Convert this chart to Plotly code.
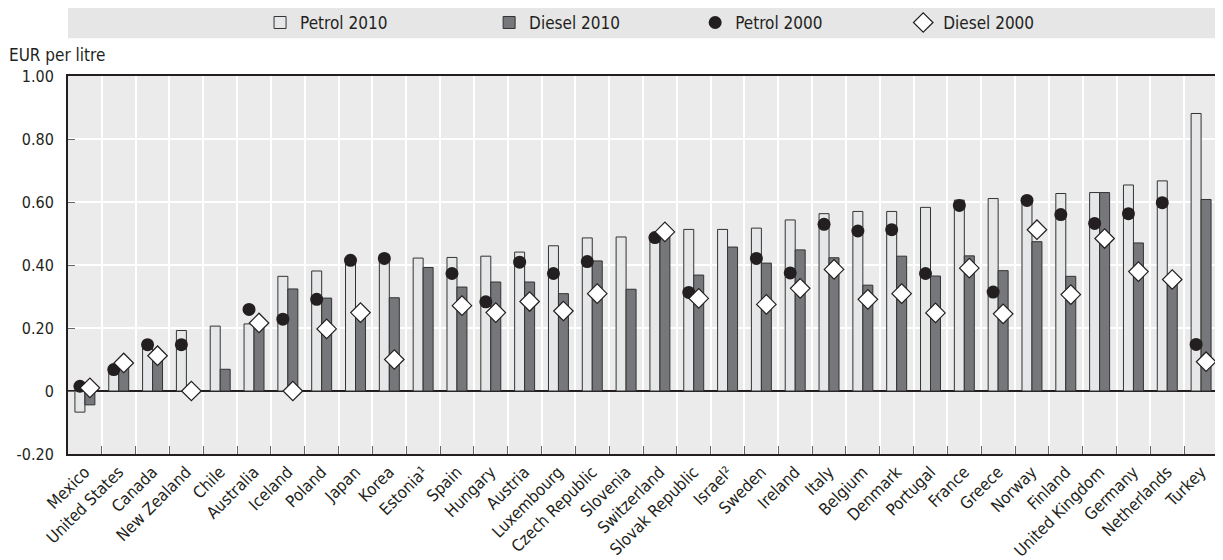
import plotly.graph_objects as go

countries = ["Mexico", "United States", "Canada", "New Zealand", "Chile", "Australia", "Iceland",
             "Poland", "Japan", "Korea", "Estonia¹", "Spain", "Hungary", "Austria", "Luxembourg",
             "Czech Republic", "Slovenia", "Switzerland", "Slovak Republic", "Israel²", "Sweden",
             "Ireland", "Italy", "Belgium", "Denmark", "Portugal", "France", "Greece", "Norway",
             "Finland", "United Kingdom", "Germany", "Netherlands", "Turkey"]

petrol_2010 = [-0.067, 0.06, 0.14, 0.192, 0.206, 0.213, 0.364, 0.381, 0.41, 0.42, 0.422, 0.424,
               0.428, 0.441, 0.461, 0.486, 0.489, 0.48, 0.513, 0.513, 0.517, 0.543, 0.563, 0.570,
               0.570, 0.583, 0.606, 0.611, 0.60, 0.627, 0.630, 0.654, 0.667, 0.881]
diesel_2010 = [-0.044, 0.08, 0.11, 0.0, 0.069, 0.21, 0.324, 0.295, 0.24, 0.296, 0.392, 0.330,
               0.346, 0.346, 0.309, 0.413, 0.323, 0.49, 0.368, 0.457, 0.406, 0.448, 0.423, 0.336,
               0.428, 0.365, 0.429, 0.382, 0.474, 0.364, 0.630, 0.470, 0.35, 0.608]
petrol_2000 = [0.015, 0.068, 0.147, 0.147, None, 0.259, 0.228, 0.291, 0.415, 0.421, None, 0.373,
               0.283, 0.409, 0.373, 0.411, None, 0.487, 0.313, None, 0.421, 0.375, 0.529, 0.508,
               0.512, 0.373, 0.589, 0.314, 0.605, 0.560, 0.532, 0.563, 0.598, 0.148]
diesel_2000 = [0.01, 0.089, 0.112, 0.0, None, 0.216, 0.0, 0.197, 0.249, 0.10, None, 0.271,
               0.249, 0.284, 0.254, 0.309, None, 0.505, 0.294, None, 0.275, 0.326, 0.386, 0.291,
               0.309, 0.248, 0.390, 0.245, 0.512, 0.306, 0.484, 0.379, 0.354, 0.093]

y_ticks = [-0.2, 0, 0.2, 0.4, 0.6, 0.8, 1.0]
y_tick_text = ["-0.20", "0", "0.20", "0.40", "0.60", "0.80", "1.00"]

FONT = "DejaVu Sans Condensed, Liberation Sans Narrow, sans-serif"
INK = "#231f20"

# the page body has an 8px margin, so the figure is drawn 8px right/down of the window corner
OFF = 8
W, H = 1223 - OFF, 560 - OFF
ML, MR, MT, MB = 68 - OFF, 5.3, 76 - OFF, 106.4
PW = W - ML - MR
PH = H - MT - MB


def px_x(px):
    """window x pixel -> paper x"""
    return (px - OFF - ML) / PW


def px_y(py):
    """window y pixel -> paper y"""
    return (H - MB - (py - OFF)) / PH


fig = go.Figure()
fig.add_trace(go.Bar(name="Petrol 2010", x=countries, y=petrol_2010, offsetgroup="p",
                     legend="legend",
                     marker=dict(color="#e6e7e8", line=dict(color="#333333", width=1))))
fig.add_trace(go.Bar(name="Diesel 2010", x=countries, y=diesel_2010, offsetgroup="d",
                     legend="legend2",
                     marker=dict(color="#76777a", line=dict(color="#333333", width=1))))
fig.add_trace(go.Scatter(name="Petrol 2000", x=countries, y=petrol_2000, mode="markers",
                         offsetgroup="p", legend="legend3",
                         marker=dict(symbol="circle", size=13, color=INK,
                                     line=dict(color=INK, width=0))))
fig.add_trace(go.Scatter(name="Diesel 2000", x=countries, y=diesel_2000, mode="markers",
                         offsetgroup="d", legend="legend4",
                         marker=dict(symbol="diamond", size=15, color="#ffffff",
                                     line=dict(color=INK, width=1.2))))

legend_text_x = [300, 529, 735, 943]


def leg(px):
    return dict(orientation="h", x=px_x(px - 40), xanchor="left",
                y=px_y(23), yanchor="middle",
                bgcolor="rgba(0,0,0,0)", font=dict(size=17, color=INK),
                itemclick=False, itemdoubleclick=False)


fig.update_layout(
    width=W, height=H,
    margin=dict(l=ML, r=MR, t=MT, b=MB, autoexpand=False),
    paper_bgcolor="#ffffff", plot_bgcolor="#ebebeb",
    barmode="group", bargap=0.41, bargroupgap=0,
    scattermode="group", scattergap=0.41,
    font=dict(family=FONT, size=16, color=INK),
    showlegend=True,
    legend=leg(legend_text_x[0]),
    legend2=leg(legend_text_x[1]),
    legend3=leg(legend_text_x[2]),
    legend4=leg(legend_text_x[3]),
    shapes=[dict(type="rect", xref="paper", yref="paper", x0=0, x1=px_x(1219),
                 y0=px_y(38.3), y1=px_y(7.7),
                 fillcolor="#e6e6e6", line=dict(width=0), layer="below")],
    annotations=[dict(text="EUR per litre", xref="paper", yref="paper",
                      x=px_x(7), y=px_y(55),
                      xanchor="left", yanchor="middle", showarrow=False,
                      font=dict(size=17, color=INK))],
)
fig.update_xaxes(type="category", tickangle=-45, ticks="inside", tickson="boundaries",
                 ticklen=8, tickcolor="#666666", showgrid=True, gridcolor="#ffffff", gridwidth=1.5,
                 showline=True, linecolor=INK, linewidth=2, mirror=True,
                 automargin=False, tickfont=dict(size=16.5, color=INK))
fig.update_yaxes(range=[-0.2, 1.0], tickvals=y_ticks, ticktext=y_tick_text, ticks="inside",
                 ticklen=7, tickcolor="#666666", showgrid=True, gridcolor="#ffffff", gridwidth=1.5,
                 zeroline=True, zerolinecolor=INK, zerolinewidth=2,
                 showline=True, linecolor=INK, linewidth=2, mirror=True,
                 ticklabelstandoff=9,
                 automargin=False, tickfont=dict(size=16, color=INK))

fig.write_html("out.html")
